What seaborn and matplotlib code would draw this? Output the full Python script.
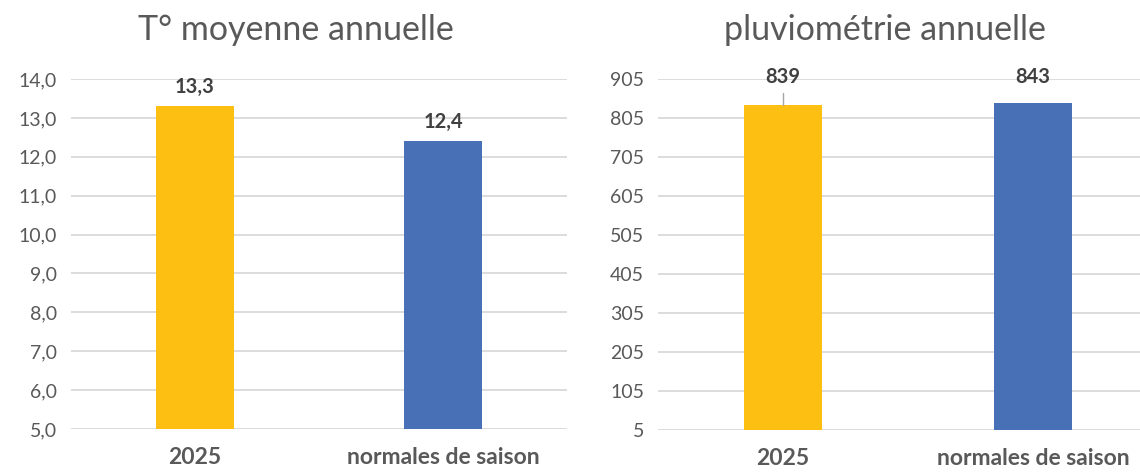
import matplotlib
matplotlib.use("Agg")
import matplotlib.pyplot as plt
import seaborn as sns
import pandas as pd
from matplotlib.ticker import FuncFormatter, MultipleLocator

categories = ["2025", "normales de saison"]
temp_values = [13.3, 12.4]
rain_values = [839, 843]
temp_labels = ["13,3", "12,4"]
rain_labels = ["839", "843"]
titles = ["T° moyenne annuelle", "pluviométrie annuelle"]
bar_colors = ["#FCBF12", "#4870B6"]

sns.set_theme(style="white")
plt.rcParams["font.family"] = ["Lato", "DejaVu Sans"]

fig = plt.figure(figsize=(11.4, 4.72), dpi=100)
ax1 = fig.add_axes([71 / 1140, 1 - 429 / 472, 496 / 1140, 350 / 472])
ax2 = fig.add_axes([658 / 1140, 1 - 430 / 472, 500 / 1140, 351 / 472])

grey = "#595959"
dark = "#404040"
grid_col = "#D9D9D9"

df_t = pd.DataFrame({"cat": categories, "val": temp_values})
df_r = pd.DataFrame({"cat": categories, "val": rain_values})

sns.barplot(data=df_t, x="cat", y="val", hue="cat", palette=bar_colors,
            saturation=1, width=0.315, legend=False, ax=ax1, zorder=3, linewidth=0)
sns.barplot(data=df_r, x="cat", y="val", hue="cat", palette=bar_colors,
            saturation=1, width=0.315, legend=False, ax=ax2, zorder=3, linewidth=0)

# left axes
ax1.set_ylim(5, 14)
ax1.yaxis.set_major_locator(MultipleLocator(1))
ax1.yaxis.set_major_formatter(FuncFormatter(lambda v, p: f"{v:.1f}".replace(".", ",")))
for i, (v, lab) in enumerate(zip(temp_values, temp_labels)):
    ax1.annotate(lab, xy=(i, v), xytext=(0, 19), textcoords="offset pixels",
                 ha="center", va="center", fontsize=14.5, fontweight="bold", color=dark)

# right axes
ax2.set_ylim(5, 905)
ax2.set_yticks(list(range(5, 906, 100)))
ax2.yaxis.set_major_formatter(FuncFormatter(lambda v, p: f"{int(round(v))}"))
for i, (v, lab) in enumerate(zip(rain_values, rain_labels)):
    ax2.text(i, 910, lab, ha="center", va="center", fontsize=14.5,
             fontweight="bold", color=dark, zorder=5)
# leader line for first label
ax2.plot([0, 0], [rain_values[0], rain_values[0] + 30], color="#A6A6A6",
         linewidth=1, zorder=4, clip_on=False)

for ax, title, cx in [(ax1, titles[0], 296), (ax2, titles[1], 885)]:
    ax.set_xlim(-0.5, 1.5)
    ax.grid(axis="y", color=grid_col, linewidth=1.3, zorder=0)
    ax.set_axisbelow(True)
    for s in ax.spines.values():
        s.set_visible(False)
    ax.set_xlabel("")
    ax.set_ylabel("")
    ax.tick_params(axis="y", length=0, pad=10, labelsize=14, labelcolor=grey)
    ax.tick_params(axis="x", length=0, pad=13, labelsize=16.5, labelcolor=grey)
    for t in ax.get_xticklabels():
        t.set_fontweight("bold")
    fig.text(cx / 1140, 1 - 30 / 472, title, ha="center", va="center",
             fontsize=24.5, color=grey)

fig.savefig("out.png", dpi=100)
